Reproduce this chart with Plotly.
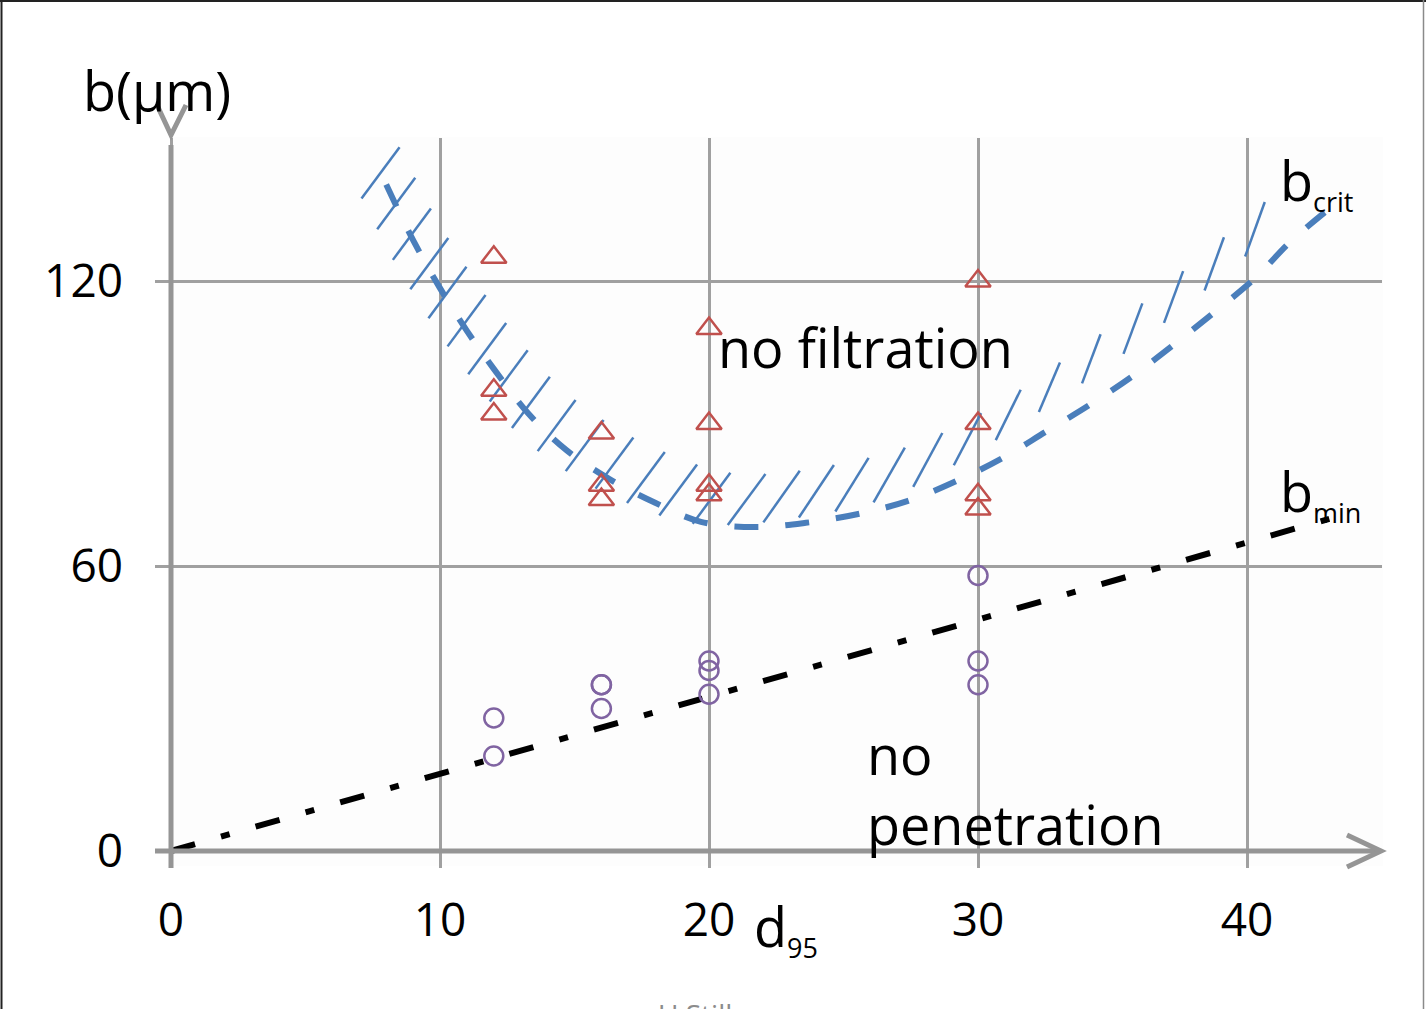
import numpy as np
import plotly.graph_objects as go

# ---------------- data ----------------
tri_x = [12, 12, 12, 16, 16, 16, 20, 20, 20, 20, 30, 30, 30, 30]
tri_y = [125, 97, 92, 88, 77, 74, 110, 90, 77, 75, 120, 90, 75, 72]

circ_x = [12, 12, 16, 16, 16, 20, 20, 20, 30, 30, 30]
circ_y = [28, 20, 35, 35, 30, 40, 38, 33, 58, 40, 35]

bcrit_x = [8.0, 9.0, 10.0, 11.0, 12.0, 13.3, 14.7, 16.3, 18.0, 19.7, 21.7, 23.6,
           25.5, 27.4, 29.2, 30.9, 32.5, 34.2, 35.8, 37.3, 38.8, 40.3, 41.6, 43.1]
bcrit_y = [140.3, 128.6, 118.5, 109.5, 101.5, 92.0, 84.4, 78.3, 73.3, 69.3, 68.2, 69.1,
           70.9, 73.7, 77.9, 82.7, 88.2, 94.1, 100.2, 106.7, 113.5, 120.6, 128.2, 135.4]

bmin_x = [0, 43.1]
bmin_y = [0, 70.0]

x_ticks = [0, 10, 20, 30, 40]
y_ticks = [0, 60, 120]

# ---------------- layout geometry ----------------
W, H = 1426, 1009
ML, MR, MT, MB = 155, 44, 138, 141
PW, PH = W - ML - MR, H - MT - MB
XR = [-0.5948, 45.0186]
YR = [-3.579, 150.105]

def px_x(x):
    return ML + (x - XR[0]) / (XR[1] - XR[0]) * PW

def px_y(y):
    return MT + (YR[1] - y) / (YR[1] - YR[0]) * PH

def dat_x(px):
    return XR[0] + (px - ML) / PW * (XR[1] - XR[0])

def dat_y(py):
    return YR[1] - (py - MT) / PH * (YR[1] - YR[0])

def pap_x(px):
    return (px - ML) / PW

def pap_y(py):
    return (H - MB - py) / PH

BLUE = "#4A7EBB"
RED = "#C0504D"
PURPLE = "#8064A2"
AXIS = "#959595"
GRID = "#A0A0A0"
FONT = "Open Sans"

# ---------------- hatching along b_crit (derived from the curve) ----------------
cx = np.array([px_x(v) for v in bcrit_x])
cy = np.array([px_y(v) for v in bcrit_y])
t0 = np.array([cx[1] - cx[0], cy[1] - cy[0]])
t0 = t0 / np.hypot(*t0)
ext = 20.0
cx = np.concatenate([[cx[0] - ext * t0[0]], cx])
cy = np.concatenate([[cy[0] - ext * t0[1]], cy])
seg = np.hypot(np.diff(cx), np.diff(cy))
s_pts = np.concatenate([[0], np.cumsum(seg)])

hx, hy = [], []
s = ext - 13
while s < s_pts[-1]:
    ax = np.interp(s, s_pts, cx)
    ay = np.interp(s, s_pts, cy)
    if ax > 1262:
        break
    off = np.interp(ax, [381, 470, 655, 751, 822, 906, 999, 1122, 1255],
                    [0, 10, 21, 27, 30, 31, 39, 47, 49])
    r = np.interp(ax, [381, 750, 822, 906, 999, 1077, 1255],
                  [0.74, 0.74, 0.66, 0.55, 0.51, 0.38, 0.36])
    ln = np.interp(ax, [381, 900, 1077, 1255], [64, 63, 52, 58])
    ux, uy = r / np.hypot(r, 1), -1 / np.hypot(r, 1)
    mx, my = ax, ay - off
    hx += [dat_x(mx - ux * ln / 2), dat_x(mx + ux * ln / 2), None]
    hy += [dat_y(my - uy * ln / 2), dat_y(my + uy * ln / 2), None]
    s += np.interp(ax, [380, 800, 1000, 1255], [36, 35, 48, 54])

fig = go.Figure()

fig.add_trace(go.Scatter(x=hx, y=hy, mode="lines",
                         line=dict(color=BLUE, width=2.5),
                         hoverinfo="skip", showlegend=False))
fig.add_trace(go.Scatter(x=bcrit_x, y=bcrit_y, mode="lines", name="b_crit",
                         line=dict(color=BLUE, width=6, dash="24px,27px", shape="spline"),
                         showlegend=False))
fig.add_trace(go.Scatter(x=bmin_x, y=bmin_y, mode="lines", name="b_min",
                         line=dict(color="black", width=6, dash="25px,27px,9px,27px"),
                         showlegend=False))
fig.add_trace(go.Scatter(x=tri_x, y=tri_y, mode="markers", name="filtration",
                         marker=dict(symbol="triangle-up-open", size=22, color=RED,
                                     line=dict(color=RED, width=2.5)),
                         showlegend=False))
fig.add_trace(go.Scatter(x=circ_x, y=circ_y, mode="markers", name="penetration",
                         marker=dict(symbol="circle-open", size=19, color=PURPLE,
                                     line=dict(color=PURPLE, width=2.5)),
                         showlegend=False))

shapes = []
# faint plot background
shapes.append(dict(type="rect", xref="paper", yref="paper", layer="below",
                   x0=pap_x(171), x1=pap_x(1383), y0=pap_y(866), y1=pap_y(137),
                   fillcolor="#FDFDFD", line=dict(width=0)))
# axes
ax_line = dict(color=AXIS, width=5)
shapes.append(dict(type="line", xref="paper", yref="paper",
                   x0=pap_x(171), x1=pap_x(171), y0=pap_y(868), y1=pap_y(145), line=ax_line))
shapes.append(dict(type="line", xref="paper", yref="paper",
                   x0=pap_x(155), x1=pap_x(1380), y0=pap_y(851), y1=pap_y(851), line=ax_line))
# arrow heads
shapes.append(dict(type="path", xref="paper", yref="paper",
                   path="M {},{} L {},{} L {},{}".format(pap_x(1347), pap_y(835), pap_x(1381), pap_y(851),
                                                         pap_x(1347), pap_y(867)),
                   line=ax_line))
shapes.append(dict(type="path", xref="paper", yref="paper",
                   path="M {},{} L {},{} L {},{}".format(pap_x(157), pap_y(105), pap_x(171), pap_y(135),
                                                         pap_x(186), pap_y(105)),
                   line=ax_line))
# outer frame
shapes.append(dict(type="line", xref="paper", yref="paper",
                   x0=pap_x(1.5), x1=pap_x(1.5), y0=pap_y(1009), y1=pap_y(0.5),
                   line=dict(color="#222", width=2)))
shapes.append(dict(type="line", xref="paper", yref="paper",
                   x0=pap_x(0), x1=pap_x(1426), y0=pap_y(1), y1=pap_y(1),
                   line=dict(color="#222", width=2)))
shapes.append(dict(type="line", xref="paper", yref="paper",
                   x0=pap_x(1423.5), x1=pap_x(1423.5), y0=pap_y(1009), y1=pap_y(0),
                   line=dict(color="#8a8a8a", width=1.5)))

big = dict(family=FONT, size=54, color="black")
sub = "<span style='font-size:27px'>{}</span>"
annotations = [
    dict(text="b(μm)", xref="paper", yref="paper", x=pap_x(157), y=pap_y(90),
         xanchor="center", yanchor="middle", showarrow=False, font=big),
    dict(text="b<sub>" + sub.format("crit") + "</sub>", xref="paper", yref="paper",
         x=pap_x(1278), y=pap_y(182), xanchor="left", yanchor="middle", showarrow=False, font=big),
    dict(text="b<sub>" + sub.format("min") + "</sub>", xref="paper", yref="paper",
         x=pap_x(1278), y=pap_y(493), xanchor="left", yanchor="middle", showarrow=False, font=big),
    dict(text="d<sub>" + sub.format("95") + "</sub>", xref="paper", yref="paper",
         x=pap_x(752), y=pap_y(928), xanchor="left", yanchor="middle", showarrow=False, font=big),
    dict(text="no filtration", xref="paper", yref="paper",
         x=pap_x(716), y=pap_y(347), xanchor="left", yanchor="middle", showarrow=False, font=big),
    dict(text="no<br>penetration", xref="paper", yref="paper", align="left",
         x=pap_x(865), y=pap_y(789), xanchor="left", yanchor="middle", showarrow=False, font=big),
    dict(text="U.Stille", xref="paper", yref="paper",
         x=pap_x(703), y=pap_y(993), xanchor="center", yanchor="top", showarrow=False,
         font=dict(family=FONT, size=28, color="#8c8c8c")),
]

fig.update_layout(
    width=W, height=H,
    margin=dict(l=ML, r=MR, t=MT, b=MB, pad=0),
    paper_bgcolor="white", plot_bgcolor="rgba(0,0,0,0)",
    shapes=shapes, annotations=annotations,
    showlegend=False,
    font=dict(family=FONT, size=46, color="black"),
)
fig.update_xaxes(range=XR, tickvals=x_ticks, ticktext=[str(v) for v in x_ticks],
                 showgrid=True, gridcolor=GRID, gridwidth=2.5, zeroline=False,
                 showline=False, ticks="", ticklabelstandoff=21,
                 tickfont=dict(family=FONT, size=46, color="black"), fixedrange=True)
fig.update_yaxes(range=YR, tickvals=y_ticks, ticktext=[str(v) for v in y_ticks],
                 showgrid=True, gridcolor=GRID, gridwidth=2.5, zeroline=False,
                 showline=False, ticks="", ticklabelstandoff=31,
                 tickfont=dict(family=FONT, size=46, color="black"), fixedrange=True)

fig.write_html("out.html")
